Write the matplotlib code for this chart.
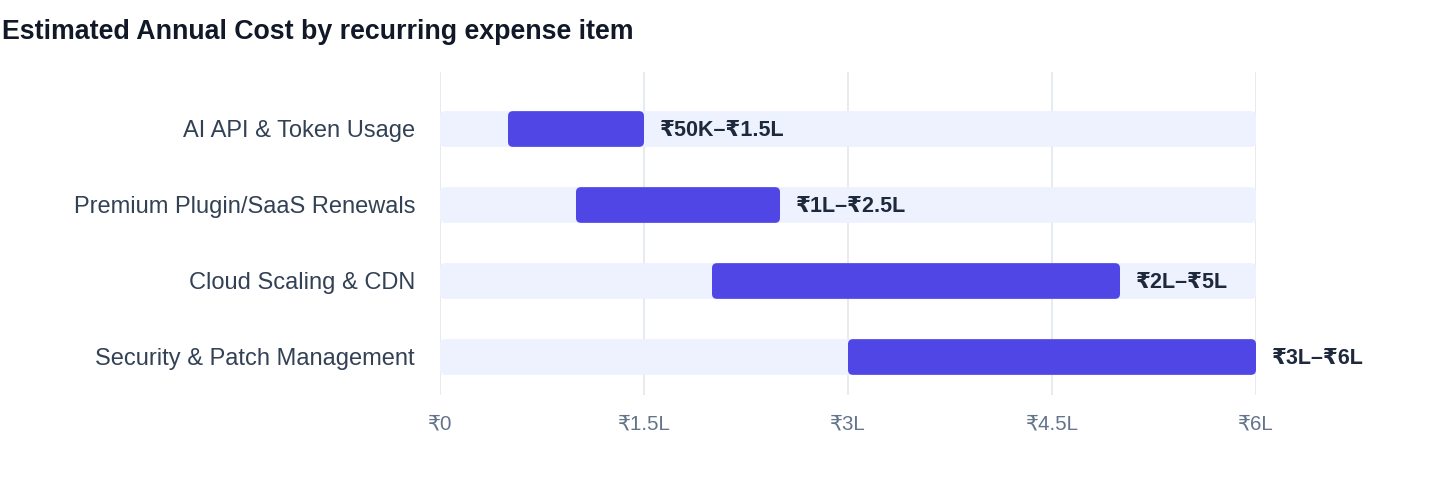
import matplotlib.pyplot as plt
from matplotlib.patches import FancyBboxPatch
from matplotlib.ticker import FixedLocator, FixedFormatter

plt.rcParams['font.family'] = ['Liberation Sans', 'DejaVu Sans']

# data (values in lakh rupees)
items = ['AI API & Token Usage', 'Premium Plugin/SaaS Renewals',
         'Cloud Scaling & CDN', 'Security & Patch Management']
low = [0.5, 1.0, 2.0, 3.0]
high = [1.5, 2.5, 5.0, 6.0]
range_labels = ['₹50K–₹1.5L', '₹1L–₹2.5L', '₹2L–₹5L', '₹3L–₹6L']
x_ticks = [0, 1.5, 3, 4.5, 6]
x_tick_labels = ['₹0', '₹1.5L', '₹3L', '₹4.5L', '₹6L']
x_max = 6

track_color = '#EEF2FF'
bar_color = '#4F46E5'

fig = plt.figure(figsize=(14.4, 4.84), dpi=100)
ax = fig.add_axes([440 / 1440, 89 / 484, 816 / 1440, 323 / 484])

ax.set_xlim(0, x_max)
ax.set_ylim(3.5, -0.75)
bar_h = 0.47

# rounding: px per data unit in x and y
px_x = 816 / x_max
px_y = 323 / 4.25
aspect = px_x / px_y
r = 5 / px_x

def rbar(y, x0, x1, color, z):
    p = FancyBboxPatch((x0, y - bar_h / 2), x1 - x0, bar_h,
                       boxstyle=f'round,pad=0,rounding_size={r}',
                       mutation_aspect=aspect, facecolor=color,
                       edgecolor='none', zorder=z)
    ax.add_patch(p)

for i, name in enumerate(items):
    rbar(i, 0, x_max, track_color, 2)
    rbar(i, low[i], high[i], bar_color, 3)
    ax.text(high[i] + 16 / px_x, i + 2 / px_y, range_labels[i], va='center', ha='left',
            fontsize=15.5, fontweight='bold', color='#1E293B', zorder=4)

ax.yaxis.set_major_locator(FixedLocator(range(len(items))))
ax.yaxis.set_major_formatter(FixedFormatter(items))
ax.xaxis.set_major_locator(FixedLocator(x_ticks))
ax.xaxis.set_major_formatter(FixedFormatter(x_tick_labels))

ax.tick_params(axis='y', length=0, pad=18, labelsize=17, labelcolor='#334155')
ax.tick_params(axis='x', length=0, pad=14, labelsize=14.8, labelcolor='#64748B')

ax.grid(axis='x', color='#E2E8F0', linewidth=1.2, zorder=0)
ax.set_axisbelow(True)
for s in ax.spines.values():
    s.set_visible(False)

fig.text(2 / 1440, 1 - 32 / 484, 'Estimated Annual Cost by recurring expense item',
         fontsize=19.3, fontweight='bold', color='#111827', va='center', ha='left')

fig.savefig('out.png', dpi=100)
